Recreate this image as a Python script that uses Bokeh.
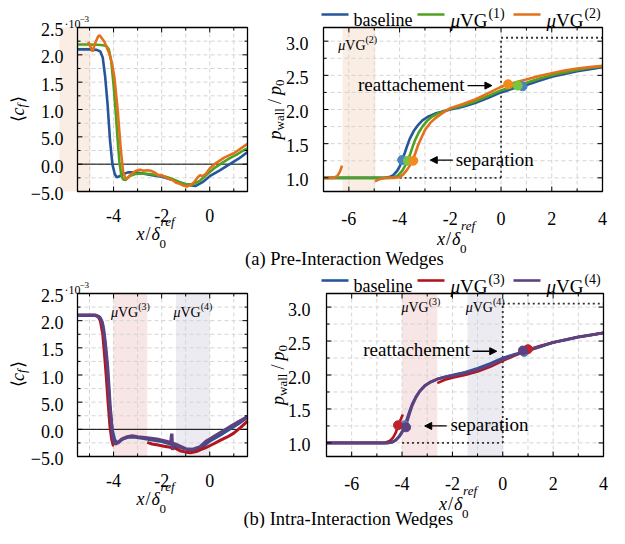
import numpy as np
from bokeh.plotting import figure
from bokeh.models import Label, Arrow, NormalHead, Range1d
from bokeh.embed import file_html
from bokeh.resources import INLINE

FONT = "Liberation Serif"

# ---------------- data ----------------
# (a) skin friction <c_f>  (values in units of 1e-3)
cfA_base_x = [-5.5, -5.0, -4.7, -4.55, -4.45, -4.35, -4.25, -4.15, -4.05, -3.95, -3.87, -3.75, -3.6, -3.4,
              -3.1, -2.8, -2.4, -2.0, -1.6, -1.2, -0.9, -0.6, -0.3, 0.0, 0.4, 0.8, 1.2, 1.57]
cfA_base_y = [2.10, 2.10, 2.09, 2.06, 1.95, 1.6, 1.1, 0.45, 0.0, -0.18, -0.24, -0.22, -0.18, -0.15,
              -0.15, -0.17, -0.2, -0.23, -0.28, -0.34, -0.38, -0.4, -0.33, -0.22, -0.12, -0.01, 0.1, 0.22]
cfA_g_x = [-5.5, -5.0, -4.5, -4.3, -4.2, -4.1, -4.0, -3.92, -3.84, -3.76, -3.68, -3.6, -3.5, -3.35, -3.1,
           -2.8, -2.5, -2.2, -1.9, -1.6, -1.3, -1.0, -0.7, -0.4, -0.1, 0.2, 0.5, 0.8, 1.1, 1.4, 1.57]
cfA_g_y = [2.19, 2.19, 2.18, 2.16, 2.1, 1.9, 1.45, 1.0, 0.5, 0.05, -0.2, -0.28, -0.29, -0.22, -0.18,
           -0.17, -0.18, -0.2, -0.22, -0.26, -0.32, -0.37, -0.37, -0.3, -0.18, -0.07, 0.02, 0.1, 0.17, 0.25, 0.29]
cfA_o_x = [-5.05, -4.95, -4.87, -4.78, -4.65, -4.58, -4.48, -4.38, -4.3, -4.18, -4.05, -3.97, -3.9, -3.83,
           -3.76, -3.7, -3.6, -3.49, -3.4, -3.3, -3.2, -3.05, -2.9, -2.75, -2.6, -2.45, -2.3, -2.15, -2.0,
           -1.85, -1.7, -1.55, -1.4, -1.25, -1.1, -0.95, -0.8, -0.65, -0.5, -0.4, -0.3, -0.15, 0.0, 0.2,
           0.4, 0.6, 0.8, 1.0, 1.2, 1.4, 1.57]
cfA_o_y = [2.24, 2.14, 2.06, 2.2, 2.33, 2.36, 2.3, 2.24, 2.15, 2.03, 1.8, 1.6, 1.3, 1.0,
           0.6, 0.27, -0.15, -0.27, -0.25, -0.2, -0.16, -0.12, -0.1, -0.12, -0.11, -0.12, -0.15, -0.2, -0.2,
           -0.24, -0.27, -0.29, -0.34, -0.36, -0.39, -0.41, -0.38, -0.33, -0.24, -0.2, -0.22, -0.17, -0.08, 0.0,
           0.06, 0.12, 0.16, 0.2, 0.26, 0.32, 0.37]

# (a) wall pressure p_wall/p0
pA_base_x = [-7.0, -5.0, -4.6, -4.4, -4.25, -4.1, -3.98, -3.9, -3.8, -3.7, -3.6, -3.45, -3.3, -3.1, -2.9,
             -2.6, -2.3, -2.0, -1.5, -1.0, -0.5, 0.0, 0.5, 0.85, 1.0, 1.5, 2.0, 2.5, 3.0, 3.5, 4.0]
pA_base_y = [1.0, 1.0, 1.0, 1.01, 1.04, 1.1, 1.18, 1.26, 1.36, 1.47, 1.57, 1.68, 1.76, 1.84, 1.89,
             1.94, 1.97, 2.0, 2.04, 2.1, 2.17, 2.25, 2.31, 2.34, 2.36, 2.42, 2.48, 2.52, 2.56, 2.59, 2.62]
pA_g_x = [-7.0, -5.0, -4.4, -4.2, -4.05, -3.9, -3.78, -3.68, -3.58, -3.48, -3.38, -3.25, -3.1, -2.9, -2.7,
          -2.45, -2.2, -2.0, -1.5, -1.0, -0.5, 0.0, 0.5, 0.66, 1.0, 1.5, 2.0, 2.5, 3.0, 3.5, 4.0]
pA_g_y = [1.0, 1.0, 1.0, 1.01, 1.04, 1.1, 1.18, 1.25, 1.35, 1.46, 1.56, 1.66, 1.75, 1.84, 1.9,
          1.95, 1.98, 2.01, 2.06, 2.12, 2.2, 2.28, 2.33, 2.35, 2.39, 2.45, 2.5, 2.54, 2.58, 2.61, 2.63]
pA_o1_x = [-7.0, -6.6, -6.45, -6.35, -6.27]
pA_o1_y = [1.0, 1.0, 1.03, 1.09, 1.18]
pA_o2_x = [-4.97, -4.85, -4.7, -4.5, -4.2, -4.0, -3.85, -3.7, -3.58, -3.48, -3.38, -3.28, -3.15, -3.0, -2.8,
           -2.6, -2.3, -2.0, -1.5, -1.0, -0.5, 0.0, 0.28, 0.5, 1.0, 1.5, 2.0, 2.5, 3.0, 3.5, 4.0]
pA_o2_y = [0.95, 0.97, 0.99, 1.0, 1.0, 1.01, 1.05, 1.12, 1.19, 1.26, 1.36, 1.47, 1.58, 1.7, 1.8,
           1.87, 1.95, 2.02, 2.08, 2.15, 2.24, 2.33, 2.37, 2.39, 2.44, 2.49, 2.53, 2.57, 2.6, 2.62, 2.64]
sepA_x = [-3.9, -3.67, -3.46]
sepA_y = [1.26, 1.25, 1.25]
reaA_x = [0.85, 0.66, 0.28]
reaA_y = [2.34, 2.35, 2.37]

# (b) skin friction (units of 1e-3)
cfB_v3_1x = [-5.5, -5.0, -4.8, -4.65, -4.55, -4.45, -4.38, -4.3, -4.22, -4.15, -4.08, -4.02, -3.98]
cfB_v3_1y = [2.1, 2.1, 2.1, 2.08, 2.0, 1.75, 1.4, 0.95, 0.45, 0.05, -0.18, -0.29, -0.3]
cfB_v3_2x = [-2.6, -2.4, -2.15, -1.9, -1.65, -1.42, -1.2, -0.99, -0.8, -0.56, -0.35, -0.13, 0.15, 0.45,
             0.73, 1.0, 1.3, 1.57]
cfB_v3_2y = [-0.24, -0.27, -0.29, -0.31, -0.33, -0.35, -0.4, -0.42, -0.43, -0.41, -0.37, -0.33, -0.27, -0.2,
             -0.14, -0.07, 0.04, 0.15]
cfB_v4_x = [-5.5, -5.0, -4.75, -4.6, -4.5, -4.42, -4.35, -4.25, -4.15, -4.04, -3.93, -3.8, -3.65, -3.45,
            -3.22, -3.0, -2.6, -2.2, -1.8, -1.62, -1.58, -1.55, -1.5, -1.3, -1.0, -0.7, -0.4, -0.15, 0.0,
            0.3, 0.6, 0.9, 1.2, 1.57]
cfB_v4_y = [2.1, 2.1, 2.1, 2.07, 2.0, 1.85, 1.6, 1.15, 0.45, -0.15, -0.27, -0.24, -0.18, -0.14,
            -0.12, -0.14, -0.16, -0.18, -0.22, -0.25, -0.08, -0.38, -0.26, -0.3, -0.36, -0.37, -0.32, -0.22, -0.18,
            -0.1, -0.02, 0.06, 0.14, 0.23]

# (b) wall pressure
pB_v3_1x = [-7.0, -5.0, -4.7, -4.55, -4.45, -4.35, -4.25, -4.16, -4.07, -3.97]
pB_v3_1y = [1.0, 1.0, 1.0, 1.02, 1.04, 1.08, 1.15, 1.25, 1.33, 1.42]
pB_v3_2x = [-2.6, -2.3, -2.0, -1.5, -1.0, -0.5, 0.0, 0.5, 0.9, 1.0, 1.05, 1.5, 2.0, 2.5, 3.0, 3.5, 4.0]
pB_v3_2y = [1.88, 1.93, 1.96, 2.0, 2.05, 2.12, 2.21, 2.29, 2.35, 2.37, 2.38, 2.43, 2.48, 2.52, 2.56, 2.59, 2.62]
pB_v4_y = [1.0, 1.0, 1.0, 1.01, 1.04, 1.1, 1.17, 1.22, 1.32, 1.44, 1.55, 1.67, 1.76, 1.84, 1.89,
           1.94, 1.97, 1.99, 2.03, 2.08, 2.15, 2.23, 2.3, 2.34, 2.36, 2.42, 2.48, 2.52, 2.56, 2.59, 2.62]
sepB_x = [-3.9, -4.16, -3.84]
sepB_y = [1.26, 1.26, 1.23]
reaB_x = [0.85, 1.0, 0.8]
reaB_y = [2.34, 2.38, 2.36]

# wedge extents and reference levels
wedge2 = (-6.25, -4.95)
wedge3 = (-4.0, -2.6)
wedge4 = (-1.4, 0.0)
p_ref_low, p_ref_high = 1.0, 3.05
ref_x_low = [-4.0, 0.0]
ref_x_high = [0.0, 4.0]

# axes
cf_xrange, cf_yrange = (-5.5, 1.57), (-0.5, 2.5)
p_xrange, p_yrange = (-7.0, 4.0), (0.8, 3.2)
cf_ticks = [-0.5, 0.0, 0.5, 1.0, 1.5, 2.0, 2.5]
cf_tick_labels = ["\u22125.0", "0.0", "5.0", "1.0", "1.5", "2.0", "2.5"]
cf_minor_y = [-0.25, 0.25, 0.75, 1.25, 1.75, 2.25]
cf_xticks = [-4, -2, 0]
cf_xtick_labels = ["-4", "-2", "0"]
cf_minor_x = [-5, -3, -1, 1]
p_xticks = [-6, -4, -2, 0, 2, 4]
p_xtick_labels = ["-6", "-4", "-2", "0", "2", "4"]
p_minor_x = [-7, -5, -3, -1, 1, 3]
p_yticks = [1.0, 1.5, 2.0, 2.5, 3.0]
p_ytick_labels = ["1.0", "1.5", "2.0", "2.5", "3.0"]
p_minor_y = [1.25, 1.75, 2.25, 2.75]

# ---------------- colours ----------------
C_BASE, C_BASE_M = "#25569b", "#4b82c4"
C_G, C_G_M = "#4fa21f", "#74c83f"
C_O, C_O_M = "#e3701a", "#f28a1e"
C_R, C_R_M = "#b3151f", "#c0222a"
C_P, C_P_M = "#5e4280", "#5e4280"
SH2, SH3, SH4 = "#faeee4", "#f8e5e5", "#ecebf2"
GRID = "#d4d4d4"

# ---------------- canvas ----------------
W, H = 609, 528
p = figure(width=W, height=H, x_range=Range1d(0, W), y_range=Range1d(0, H), min_border=0,
           x_axis_type=None, y_axis_type=None, toolbar_location=None, output_backend="svg", title=None)
p.outline_line_color = None
p.background_fill_color = "white"
p.border_fill_color = "white"

# panel boxes in canvas pixels (left, right, top, bottom)
BOX = {"A": (77, 247, 27, 191), "B": (323, 602, 27, 191),
       "C": (77, 247, 293, 456), "D": (326, 603, 293, 456)}
RANGES = {"A": (cf_xrange, cf_yrange), "B": (p_xrange, p_yrange),
          "C": (cf_xrange, cf_yrange), "D": (p_xrange, p_yrange)}
SCALE = {}
xr_d, yr_d = {}, {}
for k, (L, R, T, B) in BOX.items():
    (x0, x1), (y0, y1) = RANGES[k]
    sx = (R - L) / (x1 - x0)
    sy = (B - T) / (y1 - y0)
    SCALE[k] = (sx, sy)
    xr_d[k] = Range1d(x0 - L / sx, x1 + (W - R) / sx)
    yr_d[k] = Range1d(y0 - (H - B) / sy, y1 + T / sy)
p.extra_x_ranges = xr_d
p.extra_y_ranges = yr_d


def kw(k):
    return dict(x_range_name=k, y_range_name=k)


# ---------------- text helpers ----------------
WID = {'x': 0.444, '/': 0.278, 'δ': 0.45, '0': 0.5, 'r': 0.389, 'e': 0.444, 'f': 0.278, 'p': 0.5,
       'w': 0.722, 'a': 0.444, 'l': 0.278, 'c': 0.444, '⟨': 0.33, '⟩': 0.33, 'μ': 0.5, 'V': 0.722,
       'G': 0.722, '(': 0.333, ')': 0.333, '·': 0.25, '−': 0.564, ' ': 0.25, 's': 0.389, 'i': 0.278,
       'n': 0.5, 'b': 0.5}


def tw(s, size):
    return sum(WID.get(ch, 0.5) for ch in s) * size


def compose(x, y, parts, start=0.0, angle=0.0, rn="default"):
    adv = start
    for part in parts:
        text, size, style, dy = part[:4]
        advance = part[4] if len(part) > 4 else True
        gap = part[5] if len(part) > 5 else 0.0
        adv += gap
        xo, yo = (adv, dy) if angle == 0 else (-dy, adv)
        p.add_layout(Label(x=x, y=y, x_offset=xo, y_offset=yo, text=text, text_font=FONT,
                           text_font_size=f"{size}px", text_font_style=style, text_color="black",
                           text_align="left", text_baseline="alphabetic", angle=angle,
                           x_range_name=rn, y_range_name=rn))
        if advance:
            adv += tw(text, size)
    return adv


def txt(x, y, text, size=18, align="left", baseline="alphabetic", rn="default", xo=0, yo=0):
    p.add_layout(Label(x=x, y=y, x_offset=xo, y_offset=yo, text=text, text_font=FONT,
                       text_font_size=f"{size}px", text_color="black", text_align=align,
                       text_baseline=baseline, x_range_name=rn, y_range_name=rn))


# ---------------- panel drawing ----------------
def background(k, xmaj, xmin, ymaj, ymin, shades):
    (x0, x1), (y0, y1) = RANGES[k]
    for (a, b), c in shades:
        p.quad(left=[a], right=[b], bottom=[y0], top=[y1], fill_color=c, line_color=None,
               level="image", **kw(k))
    gx = [v for v in sorted(xmaj + xmin) if x0 < v < x1]
    gy = [v for v in sorted(ymaj + ymin) if y0 < v < y1]
    p.segment(x0=gx, y0=[y0] * len(gx), x1=gx, y1=[y1] * len(gx), line_color=GRID,
              line_dash="4 3", line_width=1, level="underlay", **kw(k))
    p.segment(x0=[x0] * len(gy), y0=gy, x1=[x1] * len(gy), y1=gy, line_color=GRID,
              line_dash="4 3", line_width=1, level="underlay", **kw(k))


def frame(k, xmaj, xmin, ymaj, ymin, xlabels, ylabels, xl_off, yl_off):
    (x0, x1), (y0, y1) = RANGES[k]
    sx, sy = SCALE[k]
    for ticks, ln in ((xmaj, 5), ([v for v in xmin if x0 < v < x1], 3)):
        n = len(ticks)
        p.segment(x0=ticks, y0=[y0] * n, x1=ticks, y1=[y0 + ln / sy] * n, line_color="black", line_width=1, **kw(k))
        p.segment(x0=ticks, y0=[y1] * n, x1=ticks, y1=[y1 - ln / sy] * n, line_color="black", line_width=1, **kw(k))
    for ticks, ln in ((ymaj, 5), ([v for v in ymin if y0 < v < y1], 3)):
        n = len(ticks)
        p.segment(x0=[x0] * n, y0=ticks, x1=[x0 + ln / sx] * n, y1=ticks, line_color="black", line_width=1, **kw(k))
        p.segment(x0=[x1] * n, y0=ticks, x1=[x1 - ln / sx] * n, y1=ticks, line_color="black", line_width=1, **kw(k))
    p.quad(left=[x0], right=[x1], bottom=[y0], top=[y1], fill_color=None, line_color="black",
           line_width=1.3, **kw(k))
    for t, s in zip(xmaj, xlabels):
        txt(t, y0, s, 18, "center", "alphabetic", rn=k, yo=-xl_off)
    for t, s in zip(ymaj, ylabels):
        txt(x0, t, s, 18, "right", "alphabetic", rn=k, xo=-yl_off, yo=-2)


def vg_label(k, xc, yb, n, size=14):
    sup = 10
    total = tw("μ", size) + tw("VG", size) + tw(f"({n})", sup)
    compose(xc, yb, [("μ", size, "italic", 0), ("VG", size, "normal", 0), (f"({n})", sup, "normal", 6)],
            start=-total / 2, rn=k)


def xlabel(k, baseline_off):
    L, R, T, B = BOX[k]
    start = (L + R) / 2 - 26
    compose(start, H - (B + baseline_off), [("x", 18, "italic", 0), ("/", 18, "normal", 0, True, 1),
                                           ("δ", 18, "italic", 0, True, 1),
                                           ("0", 13, "normal", -10, False, 0),
                                           ("ref", 13, "italic", 13, True, 1)])


def cf_ylabel(k):
    L, R, T, B = BOX[k]
    cy = (T + B) / 2
    compose(L - 60, H - (cy + 12), [("⟨", 18, "normal", 0), ("c", 18, "italic", 0),
                                    ("f", 13, "italic", -4, True, 0), ("⟩", 18, "normal", 0, True, 1)],
            angle=np.pi / 2)
    compose(L - 13, H - (T - 4), [("·10", 12, "normal", 0), ("−3", 9, "normal", 5)])


def p_ylabel(k):
    L, R, T, B = BOX[k]
    cy = (T + B) / 2
    parts = [("p", 18, "italic", 0), ("wall", 13, "normal", -5), ("/", 18, "normal", 0, True, 4),
             ("p", 18, "italic", 0, True, 4), ("0", 13, "normal", -5)]
    Ltot = 9 + tw("wall", 13) + 4 + 5 + 4 + 9 + 6.5
    compose(L - 49, H - (cy + Ltot / 2), parts, angle=np.pi / 2)


def legend(k, items):
    L, R, T, B = BOX[k]
    ly = H - (T - 13)
    by = H - (T - 7.5)
    for color, x_line, x_text, parts in items:
        p.segment(x0=[x_line], y0=[ly], x1=[x_line + 27], y1=[ly], line_color=color, line_width=2.6)
        compose(x_text, by, parts)


def pressure_refs(k):
    st = dict(line_dash="2 3", line_color="#333333", line_width=1.8, **kw(k))
    p.line([0, 0], [p_ref_low, p_ref_high], **st)
    p.line(ref_x_high, [p_ref_high, p_ref_high], **st)
    p.line(ref_x_low, [p_ref_low, p_ref_low], **st)


def arrow(k, xs, xe, y):
    p.add_layout(Arrow(end=NormalHead(size=7, fill_color="black", line_color="black", line_width=1),
                       x_start=xs, y_start=y, x_end=xe, y_end=y, line_color="black", line_width=1.3, **kw(k)))


LW = 2.6

# ---------- (a) left: c_f ----------
background("A", cf_xticks, cf_minor_x, cf_ticks, cf_minor_y, [(wedge2, SH2)])
p.segment(x0=[cf_xrange[0]], y0=[0], x1=[cf_xrange[1]], y1=[0], line_color="black", line_width=1, **kw("A"))
p.line(cfA_base_x, cfA_base_y, line_color=C_BASE, line_width=LW, **kw("A"))
p.line(cfA_g_x, cfA_g_y, line_color=C_G, line_width=LW, **kw("A"))
p.line(cfA_o_x, cfA_o_y, line_color=C_O, line_width=LW, **kw("A"))
frame("A", cf_xticks, cf_minor_x, cf_ticks, cf_minor_y, cf_xtick_labels, cf_tick_labels, 24, 14)
cf_ylabel("A")
xlabel("A", 42.5)

# ---------- (a) right: pressure ----------
background("B", p_xticks, p_minor_x, p_yticks, p_minor_y, [(wedge2, SH2)])
vg_label("B", -5.65, 2.93, 2)
pressure_refs("B")
p.line(pA_base_x, pA_base_y, line_color=C_BASE, line_width=LW, **kw("B"))
p.line(pA_g_x, pA_g_y, line_color=C_G, line_width=LW, **kw("B"))
p.line(pA_o1_x, pA_o1_y, line_color=C_O, line_width=LW, **kw("B"))
p.line(pA_o2_x, pA_o2_y, line_color=C_O, line_width=LW, **kw("B"))
for xs, ys in ((sepA_x, sepA_y), (reaA_x, reaA_y)):
    for xx, yy, cc in zip(xs, ys, [C_BASE_M, C_G_M, C_O_M]):
        p.scatter([xx], [yy], size=9, color=cc, **kw("B"))
txt(-1.44, 2.37, "reattachement", 19, "right", "middle", rn="B")
arrow("B", -1.32, -0.36, 2.35)
txt(-1.79, 1.27, "separation", 19, "left", "middle", rn="B")
arrow("B", -1.9, -2.79, 1.26)
frame("B", p_xticks, p_minor_x, p_yticks, p_minor_y, p_xtick_labels, p_ytick_labels, 27, 15)
p_ylabel("B")
xlabel("B", 47)
legend("B", [(C_BASE, 321, 353, [("baseline", 18, "normal", 0)]),
             (C_G, 417, 450, [("μ", 19, "italic", 0), ("VG", 19, "normal", 0), ("(1)", 14, "normal", 7, True, 1)]),
             (C_O, 513, 546, [("μ", 19, "italic", 0), ("VG", 19, "normal", 0), ("(2)", 14, "normal", 7, True, 1)])])
txt(344, H - 258, "(a) Pre-Interaction Wedges", 18.5, "center", "middle")

# ---------- (b) left: c_f ----------
background("C", cf_xticks, cf_minor_x, cf_ticks, cf_minor_y, [(wedge3, SH3), (wedge4, SH4)])
vg_label("C", -3.3, 2.15, 3)
vg_label("C", -0.7, 2.15, 4)
p.segment(x0=[cf_xrange[0]], y0=[0], x1=[cf_xrange[1]], y1=[0], line_color="black", line_width=1, **kw("C"))
p.line(cfA_base_x, cfA_base_y, line_color=C_BASE, line_width=LW, **kw("C"))
p.line(cfB_v3_1x, cfB_v3_1y, line_color=C_R, line_width=LW + 0.4, **kw("C"))
p.line(cfB_v3_2x, cfB_v3_2y, line_color=C_R, line_width=LW + 0.4, **kw("C"))
p.line(cfB_v4_x, cfB_v4_y, line_color=C_P, line_width=LW + 0.8, **kw("C"))
frame("C", cf_xticks, cf_minor_x, cf_ticks, cf_minor_y, cf_xtick_labels, cf_tick_labels, 24, 14)
cf_ylabel("C")
xlabel("C", 42.5)

# ---------- (b) right: pressure ----------
background("D", p_xticks, p_minor_x, p_yticks, p_minor_y, [(wedge3, SH3), (wedge4, SH4)])
vg_label("D", -3.25, 3.0, 3)
vg_label("D", -0.7, 3.0, 4)
pressure_refs("D")
p.line(pA_base_x, pA_base_y, line_color=C_BASE, line_width=LW, **kw("D"))
p.line(pB_v3_1x, pB_v3_1y, line_color=C_R, line_width=LW, **kw("D"))
p.line(pB_v3_2x, pB_v3_2y, line_color=C_R, line_width=LW, **kw("D"))
p.line(pA_base_x, pB_v4_y, line_color=C_P, line_width=LW + 0.4, **kw("D"))
for xx, yy, cc in zip(sepB_x + reaB_x, sepB_y + reaB_y, [C_BASE_M, C_R_M, C_P_M] * 2):
    p.scatter([xx], [yy], size=9, color=cc, **kw("D"))
txt(-1.31, 2.37, "reattachement", 19, "right", "middle", rn="D")
arrow("D", -1.2, -0.24, 2.35)
txt(-2.08, 1.27, "separation", 19, "left", "middle", rn="D")
arrow("D", -2.23, -3.1, 1.25)
frame("D", p_xticks, p_minor_x, p_yticks, p_minor_y, p_xtick_labels, p_ytick_labels, 27, 16)
p_ylabel("D")
xlabel("D", 47)
legend("D", [(C_BASE, 321, 353, [("baseline", 18, "normal", 0)]),
             (C_R, 417, 450, [("μ", 19, "italic", 0), ("VG", 19, "normal", 0), ("(3)", 14, "normal", 7, True, 1)]),
             (C_P, 513, 546, [("μ", 19, "italic", 0), ("VG", 19, "normal", 0), ("(4)", 14, "normal", 7, True, 1)])])
txt(348, H - 518, "(b) Intra-Interaction Wedges", 18.5, "center", "middle")

open("out.html", "w").write(file_html(p, INLINE))
